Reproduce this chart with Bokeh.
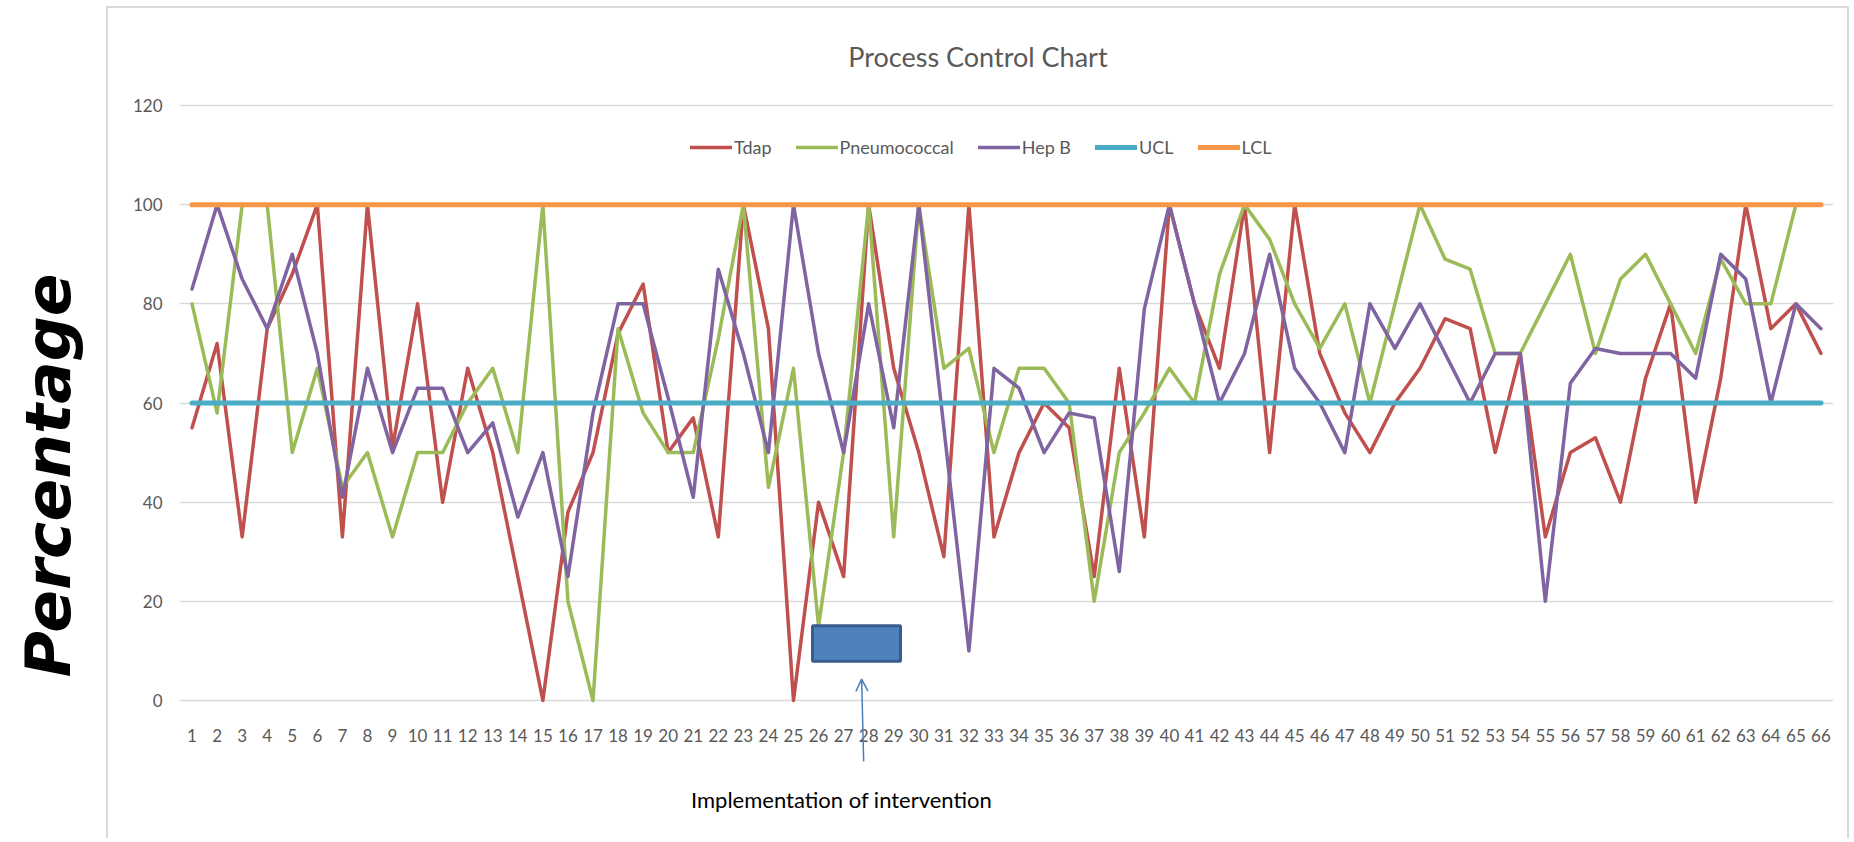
import math
from bokeh.plotting import figure
from bokeh.models import Range1d, FixedTicker, Legend, LegendItem, Label, Arrow, OpenHead
from bokeh.layouts import row
from bokeh.embed import file_html
from bokeh.resources import INLINE
from bokeh.core.properties import value

# ---------------- data ----------------
points = list(range(1, 67))
tdap = [55, 72, 33, 75, 86, 100, 33, 100, 51, 80,
        40, 67, 50, 25, 0, 38, 50, 74, 84, 50,
        57, 33, 100, 75, 0, 40, 25, 100, 67, 50,
        29, 100, 33, 50, 60, 55, 25, 67, 33, 100,
        80, 67, 100, 50, 100, 70, 58, 50, 60, 67,
        77, 75, 50, 70, 33, 50, 53, 40, 65, 80,
        40, 65, 100, 75, 80, 70]
pneumococcal = [80, 58, 100, 100, 50, 67, 43, 50, 33, 50,
                50, 60, 67, 50, 100, 20, 0, 75, 58, 50,
                50, 73, 100, 43, 67, 15, 50, 100, 33, 100,
                67, 71, 50, 67, 67, 60, 20, 50, 58, 67,
                60, 86, 100, 93, 80, 71, 80, 60, 80, 100,
                89, 87, 70, 70, 80, 90, 70, 85, 90, 80,
                70, 89, 80, 80, 100, 100]
hep_b = [83, 100, 85, 75, 90, 70, 41, 67, 50, 63,
         63, 50, 56, 37, 50, 25, 58, 80, 80, 61,
         41, 87, 70, 50, 100, 70, 50, 80, 55, 100,
         55, 10, 67, 63, 50, 58, 57, 26, 79, 100,
         80, 60, 70, 90, 67, 60, 50, 80, 71, 80,
         70, 60, 70, 70, 20, 64, 71, 70, 70, 70,
         65, 90, 85, 60, 80, 75]
ucl = [60] * len(points)
lcl = [100] * len(points)
y_ticks = [0, 20, 40, 60, 80, 100, 120]

series_names = ["Tdap", "Pneumococcal", "Hep B", "UCL", "LCL"]
series_colors = ["#C0504D", "#9BBB59", "#8064A2", "#4BACC6", "#F79646"]

title_text = "Process Control Chart"
y_label = "Percentage"
note_text = "Implementation of intervention"
# intervention marker (data units)
box_left, box_right, box_bottom, box_top = [25.76], [29.27], [7.9], [15.1]
arrow_x_start, arrow_y_start, arrow_x_end, arrow_y_end = 27.8, -12.3, 27.72, 4.3
note_x, note_y = 26.92, -19.9
title_x, title_y = 32.36, 129.9

FONT = "Lato"
GREY = "#595959"

# ---------------- main chart ----------------
p = figure(width=1743, height=832,
           x_range=Range1d(0.5, 66.5), y_range=Range1d(-26.22, 133.92),
           output_backend="svg", toolbar_location=None,
           min_border_left=71, min_border_right=18,
           min_border_top=28, min_border_bottom=10)
p.margin = (6, 0, 0, 0)
p.outline_line_color = None
p.background_fill_color = "white"
p.border_fill_color = "white"
p.styles = {"border-top": "2px solid #D9D9D9",
            "border-left": "2px solid #D9D9D9",
            "border-right": "2px solid #D9D9D9"}

p.xgrid.visible = False
p.ygrid.grid_line_color = "#D9D9D9"
p.ygrid.grid_line_width = 1.3

p.yaxis.ticker = FixedTicker(ticks=y_ticks)
p.xaxis.ticker = FixedTicker(ticks=points)
p.xaxis.fixed_location = 0
for ax in (p.xaxis, p.yaxis):
    ax.axis_line_color = None
    ax.major_tick_line_color = None
    ax.minor_tick_line_color = None
    ax.major_label_text_font = FONT
    ax.major_label_text_font_size = "17px"
    ax.major_label_text_color = GREY
p.yaxis.major_label_standoff = 11
p.xaxis.major_label_standoff = 23

all_series = [tdap, pneumococcal, hep_b, ucl, lcl]
widths = [3.5, 3.5, 3.5, 5, 5]
renderers = []
for name, ys, col, w in zip(series_names, all_series, series_colors, widths):
    r = p.line(points, ys, line_color=col, line_width=w,
               line_join="round", line_cap="round")
    renderers.append(r)

legend = Legend(items=[LegendItem(label=n, renderers=[r]) for n, r in zip(series_names, renderers)],
                orientation="horizontal", location=(511, 672))
legend.label_text_font = FONT
legend.label_text_font_size = "18px"
legend.label_text_color = GREY
legend.glyph_width = 42
legend.glyph_height = 20
legend.label_height = 20
legend.label_standoff = 2
legend.spacing = 24
legend.padding = 0
legend.margin = 0
legend.border_line_color = None
legend.background_fill_alpha = 0
p.add_layout(legend, "center")

p.quad(left=box_left, right=box_right, bottom=box_bottom, top=box_top,
       fill_color="#4F81BD", line_color="#385D8A", line_width=3)

p.add_layout(Arrow(x_start=arrow_x_start, y_start=arrow_y_start,
                   x_end=arrow_x_end, y_end=arrow_y_end,
                   line_color="#4A7EBB", line_width=1.5,
                   end=OpenHead(size=12, line_color="#4A7EBB", line_width=1.5)))

p.add_layout(Label(x=note_x, y=note_y, text=note_text, text_font=FONT,
                   text_font_size="22px", text_color="black",
                   text_align="center", text_baseline="alphabetic"))
p.add_layout(Label(x=title_x, y=title_y, text=title_text, text_font=FONT,
                   text_font_size="27px", text_color=GREY,
                   text_align="center", text_baseline="alphabetic"))

# ---------------- y label panel ----------------
q = figure(width=106, height=840, x_range=Range1d(0, 106), y_range=Range1d(0, 840),
           output_backend="svg", toolbar_location=None,
           x_axis_location=None, y_axis_location=None, min_border=0)
q.grid.visible = False
q.outline_line_color = None
q.text(x=[48], y=[372], text=[y_label], angle=math.pi / 2,
       text_font=value("DejaVu Sans"), text_font_style="bold italic",
       text_font_size="63px", text_align="center", text_baseline="middle",
       text_color="black")

layout = row(q, p)
open("out.html", "w").write(file_html(layout, INLINE))
